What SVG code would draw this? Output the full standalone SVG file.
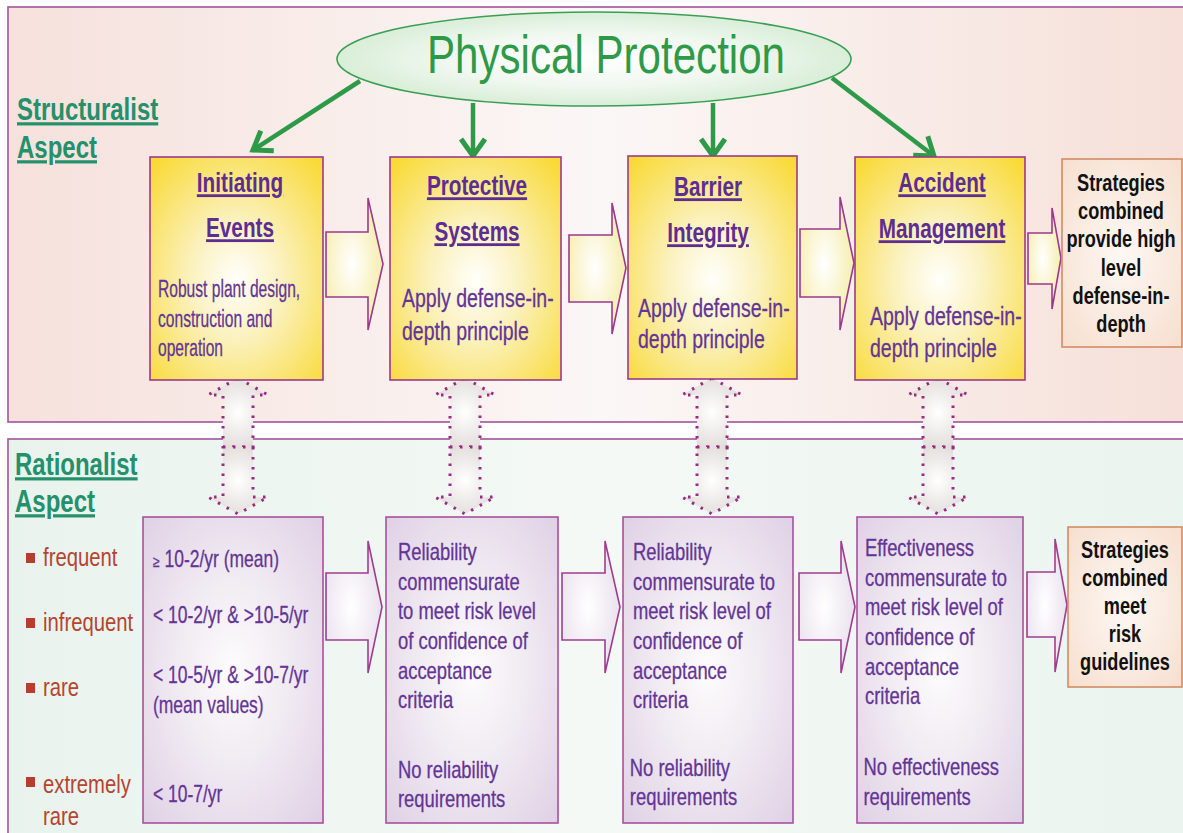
<svg xmlns="http://www.w3.org/2000/svg" width="1183" height="833" viewBox="0 0 1183 833">
  <defs>
    <linearGradient id="gTopPanel" x1="0" y1="0" x2="1" y2="0">
      <stop offset="0" stop-color="#f6e1dc"/>
      <stop offset="0.5" stop-color="#fbf7f6"/>
      <stop offset="1" stop-color="#f6dfd8"/>
    </linearGradient>
    <linearGradient id="gBotPanel" x1="0" y1="0" x2="1" y2="0">
      <stop offset="0" stop-color="#e9f3ed"/>
      <stop offset="0.5" stop-color="#f4f9f6"/>
      <stop offset="1" stop-color="#eaf4ee"/>
    </linearGradient>
    <radialGradient id="gEllipse" cx="0.5" cy="0.5" r="0.5">
      <stop offset="0" stop-color="#ffffff"/>
      <stop offset="0.55" stop-color="#f1f8f0"/>
      <stop offset="1" stop-color="#d9eed8"/>
    </radialGradient>
    <radialGradient id="gYellow" cx="0.5" cy="0.55" r="0.72">
      <stop offset="0" stop-color="#fffffb"/>
      <stop offset="0.35" stop-color="#fbf2c2"/>
      <stop offset="1" stop-color="#f9d932"/>
    </radialGradient>
    <radialGradient id="gYellowArrow" cx="0.45" cy="0.5" r="0.6">
      <stop offset="0" stop-color="#ffffff"/>
      <stop offset="1" stop-color="#f5eca6"/>
    </radialGradient>
    <radialGradient id="gLavender" cx="0.5" cy="0.5" r="0.7">
      <stop offset="0" stop-color="#fdfcfd"/>
      <stop offset="0.5" stop-color="#efe8f1"/>
      <stop offset="1" stop-color="#dfd1e5"/>
    </radialGradient>
    <radialGradient id="gLavArrow" cx="0.45" cy="0.5" r="0.6">
      <stop offset="0" stop-color="#ffffff"/>
      <stop offset="1" stop-color="#e8dfec"/>
    </radialGradient>
    <radialGradient id="gPeach" cx="0.5" cy="0.5" r="0.7">
      <stop offset="0" stop-color="#fdf8f4"/>
      <stop offset="1" stop-color="#f7dfcf"/>
    </radialGradient>
    <radialGradient id="gGray" cx="0.5" cy="0.5" r="0.6">
      <stop offset="0" stop-color="#ffffff"/>
      <stop offset="1" stop-color="#dedad6"/>
    </radialGradient>
    <marker id="chev" markerUnits="userSpaceOnUse" markerWidth="30" markerHeight="30" viewBox="-20 -15 26 30" refX="0" refY="0" orient="auto">
      <path d="M-17,-12 L0,0 L-17,12" fill="none" stroke="#2e9a48" stroke-width="5" stroke-linejoin="miter"/>
    </marker>
    <style>
      .panel { stroke: #a4529c; stroke-width: 1.6; }
      .ybox { fill: url(#gYellow); stroke: #9a3a8c; stroke-width: 1.6; }
      .lbox { fill: url(#gLavender); stroke: #a8519c; stroke-width: 1.6; }
      .sbox { fill: url(#gPeach); stroke: #d28c64; stroke-width: 1.6; }
      .yarrow { fill: url(#gYellowArrow); stroke: #9a3a8c; stroke-width: 1.6; }
      .larrow { fill: url(#gLavArrow); stroke: #a03c90; stroke-width: 1.6; }
      .dbl { fill: url(#gGray); stroke: #9a2a82; stroke-width: 3; stroke-dasharray: 2.5 7.5; }
      .green { fill: none; stroke: #2e9a48; stroke-width: 4.5; marker-end: url(#chev); }
      text { font-family: "Liberation Sans", Arial, sans-serif; }
      .title { font-size: 54px; fill: #2e9a48; }
      .head { font-size: 32px; font-weight: bold; fill: #24906c; text-decoration: underline; }
      .btitle { font-size: 28px; font-weight: bold; fill: #5e2d92; text-decoration: underline; }
      .body { fill: #643596; stroke: #643596; stroke-width: 0.3; }
      .strat { font-size: 23px; font-weight: bold; fill: #111111; }
      .bul { font-size: 26px; fill: #b5452f; }
      .bulsq { fill: #b83e2c; }
    </style>
  </defs>

  <!-- background panels -->
  <rect x="0" y="0" width="1183" height="833" fill="#ffffff"/>
  <rect id="structuralist-panel" class="panel" x="8" y="7" width="1190" height="415" fill="url(#gTopPanel)"/>
  <rect id="rationalist-panel" class="panel" x="8" y="439" width="1190" height="410" fill="url(#gBotPanel)"/>

  <g id="structuralist-label">
    <text class="head" transform="translate(17 0) scale(0.75 1)"><tspan x="0" y="120">Structuralist</tspan><tspan x="0" y="158">Aspect</tspan></text>
  </g>
  <g id="rationalist-label">
    <text class="head" transform="translate(15 0) scale(0.75 1)"><tspan x="0" y="475">Rationalist</tspan><tspan x="0" y="512">Aspect</tspan></text>
  </g>

  <!-- frequency categories -->
  <g id="frequency-list">
    <rect class="bulsq" x="26" y="553" width="9" height="10"/>
    <rect class="bulsq" x="26" y="618" width="9" height="10"/>
    <rect class="bulsq" x="26" y="683" width="9" height="10"/>
    <rect class="bulsq" x="26" y="777" width="9" height="10"/>
    <text class="bul" transform="translate(43 0) scale(0.78 1)"><tspan x="0" y="566">frequent</tspan><tspan x="0" y="631">infrequent</tspan><tspan x="0" y="696">rare</tspan><tspan x="0" y="793">extremely</tspan><tspan x="0" y="825">rare</tspan></text>
  </g>

  <!-- dotted two-way arrows between the aspects -->
  <g id="links">
    <g id="link-1" class="dbl">
      <path d="M238,378 L268,395 L253,395 L253,447 L223,447 L223,395 L208,395 Z"/>
      <path d="M223,447 L253,447 L253,497 L268,497 L238,514 L208,497 L223,497 Z"/>
    </g>
    <g id="link-2" class="dbl">
      <path d="M465,378 L495,395 L480,395 L480,447 L450,447 L450,395 L435,395 Z"/>
      <path d="M450,447 L480,447 L480,497 L495,497 L465,514 L435,497 L450,497 Z"/>
    </g>
    <g id="link-3" class="dbl">
      <path d="M712,378 L742,395 L727,395 L727,447 L697,447 L697,395 L682,395 Z"/>
      <path d="M697,447 L727,447 L727,497 L742,497 L712,514 L682,497 L697,497 Z"/>
    </g>
    <g id="link-4" class="dbl">
      <path d="M938,378 L968,395 L953,395 L953,447 L923,447 L923,395 L908,395 Z"/>
      <path d="M923,447 L953,447 L953,497 L968,497 L938,514 L908,497 L923,497 Z"/>
    </g>
  </g>

  <!-- connectors -->
  <g id="connectors">
    <line class="green" x1="360" y1="81" x2="253" y2="150"/>
    <line class="green" x1="473" y1="103" x2="473" y2="156"/>
    <line class="green" x1="713" y1="103" x2="713" y2="156"/>
    <line class="green" x1="832" y1="78" x2="934" y2="156"/>
    <path class="yarrow" d="M326,232 L368,232 L368,198 L383,264 L368,330 L368,297 L326,297 Z"/>
    <path class="yarrow" d="M569,235 L612,235 L612,203 L626,268 L612,334 L612,302 L569,302 Z"/>
    <path class="yarrow" d="M800,229 L840,229 L840,197 L854,263 L840,330 L840,297 L800,297 Z"/>
    <path class="yarrow" d="M1028,233 L1052,233 L1052,208 L1061,258 L1052,309 L1052,284 L1028,284 Z"/>
    <path class="larrow" d="M326,573 L368,573 L368,541 L382,607 L368,673 L368,640 L326,640 Z"/>
    <path class="larrow" d="M562,573 L605,573 L605,541 L620,607 L605,673 L605,640 L562,640 Z"/>
    <path class="larrow" d="M799,573 L841,573 L841,541 L855,607 L841,673 L841,640 L799,640 Z"/>
    <path class="larrow" d="M1027,572 L1055,572 L1055,539 L1067,605 L1055,672 L1055,637 L1027,637 Z"/>
  </g>

  <g id="physical-protection">
    <ellipse cx="594" cy="59" rx="257" ry="47" fill="url(#gEllipse)" stroke="#3a9e55" stroke-width="1.6"/>
    <text class="title" transform="translate(606 0) scale(0.78 1)" text-anchor="middle" x="0" y="73">Physical Protection</text>
  </g>

  <!-- structuralist boxes -->
  <g id="initiating-events">
    <rect class="ybox" x="150" y="157" width="173" height="223"/>
    <text class="btitle" transform="translate(240 0) scale(0.74 1)" text-anchor="middle"><tspan x="0" y="192">Initiating</tspan><tspan x="0" y="237">Events</tspan></text>
    <text class="body" font-size="24" transform="translate(158 0) scale(0.65 1)"><tspan x="0" y="297">Robust plant design,</tspan><tspan x="0" y="327">construction and</tspan><tspan x="0" y="356">operation</tspan></text>
  </g>
  <g id="protective-systems">
    <rect class="ybox" x="390" y="157" width="171" height="223"/>
    <text class="btitle" transform="translate(477 0) scale(0.74 1)" text-anchor="middle"><tspan x="0" y="195">Protective</tspan><tspan x="0" y="241">Systems</tspan></text>
    <text class="body" font-size="26" transform="translate(402 0) scale(0.75 1)"><tspan x="0" y="307">Apply defense-in-</tspan><tspan x="0" y="340">depth principle</tspan></text>
  </g>
  <g id="barrier-integrity">
    <rect class="ybox" x="628" y="156" width="169" height="223"/>
    <text class="btitle" transform="translate(708 0) scale(0.74 1)" text-anchor="middle"><tspan x="0" y="196">Barrier</tspan><tspan x="0" y="242">Integrity</tspan></text>
    <text class="body" font-size="26" transform="translate(638 0) scale(0.75 1)"><tspan x="0" y="317">Apply defense-in-</tspan><tspan x="0" y="348">depth principle</tspan></text>
  </g>
  <g id="accident-management">
    <rect class="ybox" x="855" y="157" width="170" height="223"/>
    <text class="btitle" transform="translate(942 0) scale(0.74 1)" text-anchor="middle"><tspan x="0" y="192">Accident</tspan><tspan x="0" y="238">Management</tspan></text>
    <text class="body" font-size="26" transform="translate(870 0) scale(0.75 1)"><tspan x="0" y="325">Apply defense-in-</tspan><tspan x="0" y="357">depth principle</tspan></text>
  </g>
  <g id="strategies-defense">
    <rect class="sbox" x="1062" y="159" width="120" height="188"/>
    <text class="strat" transform="translate(1121 0) scale(0.79 1)" text-anchor="middle"><tspan x="0" y="191">Strategies</tspan><tspan x="0" y="219">combined</tspan><tspan x="0" y="247">provide high</tspan><tspan x="0" y="276">level</tspan><tspan x="0" y="304">defense-in-</tspan><tspan x="0" y="332">depth</tspan></text>
  </g>

  <!-- rationalist boxes -->
  <g id="frequency-values">
    <rect class="lbox" x="143" y="517" width="180" height="306"/>
    <text class="body" font-size="23" transform="translate(153 0) scale(0.76 1)"><tspan x="0" y="567"><tspan font-size="16">≥</tspan> 10-2/yr (mean)</tspan><tspan x="0" y="623">&lt; 10-2/yr &amp; &gt;10-5/yr</tspan><tspan x="0" y="683">&lt; 10-5/yr &amp; &gt;10-7/yr</tspan><tspan x="0" y="713">(mean values)</tspan><tspan x="0" y="802">&lt; 10-7/yr</tspan></text>
  </g>
  <g id="reliability-protective">
    <rect class="lbox" x="386" y="517" width="172" height="306"/>
    <text class="body" font-size="23" transform="translate(398 0) scale(0.8 1)"><tspan x="0" y="560">Reliability</tspan><tspan x="0" y="590">commensurate</tspan><tspan x="0" y="619">to meet risk level</tspan><tspan x="0" y="649">of confidence of</tspan><tspan x="0" y="679">acceptance</tspan><tspan x="0" y="708">criteria</tspan><tspan x="0" y="778">No reliability</tspan><tspan x="0" y="807">requirements</tspan></text>
  </g>
  <g id="reliability-barrier">
    <rect class="lbox" x="623" y="517" width="170" height="306"/>
    <text class="body" font-size="23" transform="translate(633 0) scale(0.8 1)"><tspan x="0" y="560">Reliability</tspan><tspan x="0" y="590">commensurate to</tspan><tspan x="0" y="619">meet risk level of</tspan><tspan x="0" y="649">confidence of</tspan><tspan x="0" y="679">acceptance</tspan><tspan x="0" y="708">criteria</tspan><tspan x="-4" y="776">No reliability</tspan><tspan x="-4" y="805">requirements</tspan></text>
  </g>
  <g id="effectiveness-accident">
    <rect class="lbox" x="857" y="517" width="166" height="306"/>
    <text class="body" font-size="23" transform="translate(865 0) scale(0.8 1)"><tspan x="0" y="556">Effectiveness</tspan><tspan x="0" y="586">commensurate to</tspan><tspan x="0" y="615">meet risk level of</tspan><tspan x="0" y="645">confidence of</tspan><tspan x="0" y="675">acceptance</tspan><tspan x="0" y="704">criteria</tspan><tspan x="-2" y="775">No effectiveness</tspan><tspan x="-2" y="805">requirements</tspan></text>
  </g>
  <g id="strategies-risk">
    <rect class="sbox" x="1068" y="527" width="114" height="160"/>
    <text class="strat" transform="translate(1125 0) scale(0.79 1)" text-anchor="middle"><tspan x="0" y="558">Strategies</tspan><tspan x="0" y="586">combined</tspan><tspan x="0" y="614">meet</tspan><tspan x="0" y="642">risk</tspan><tspan x="0" y="670">guidelines</tspan></text>
  </g>
</svg>
